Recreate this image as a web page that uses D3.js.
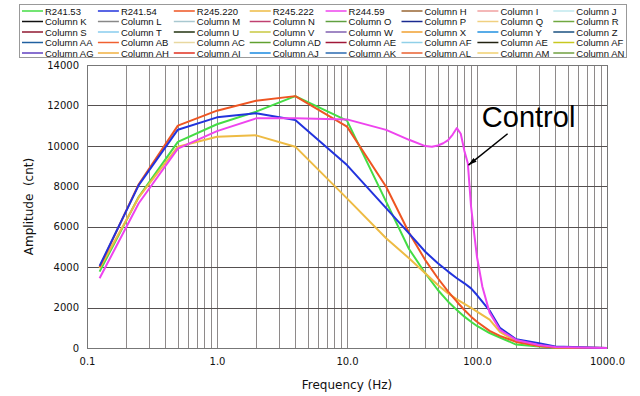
<!DOCTYPE html>
<html>
<head>
<meta charset="utf-8">
<script src="https://cdn.jsdelivr.net/npm/d3@7"></script>
<style>
  html, body { margin: 0; padding: 0; background: #fff; }
  svg { display: block; }
</style>
</head>
<body>
<div id="chart"></div>
<script>
// frequencies (Hz) shared by the four test runs
const freq = [0.125, 0.25, 0.5, 1, 2, 4, 10, 20, 30, 40, 50, 60, 70, 80, 90, 100, 125, 150, 200, 300, 400, 1000];

const r24153 = [3780, 7480, 10200, 11070, 11690, 12460, 11250, 7240, 4900, 3700, 2870, 2290, 1880, 1550, 1300, 1090, 740, 520, 170, 70, 20, 0];
const r24154 = [4060, 8060, 10800, 11410, 11610, 11280, 9050, 6920, 5670, 4760, 4190, 3780, 3450, 3200, 2950, 2620, 1850, 1000, 430, 230, 80, 0];
const r245220 = [4000, 8100, 11000, 11740, 12230, 12460, 10950, 7980, 5700, 4350, 3450, 2790, 2290, 1880, 1550, 1300, 850, 600, 300, 100, 30, 0];
const r245222 = [3940, 7450, 9960, 10450, 10520, 9960, 7400, 5430, 4440, 3700, 3120, 2700, 2410, 2180, 1990, 1800, 1400, 800, 320, 100, 30, 0];

// control run has its own, denser frequency list
const controlFreq = [0.125, 0.25, 0.5, 1, 2, 4, 10, 20, 30, 40, 45, 50, 55, 60, 65, 70, 75, 80, 85, 90, 95, 100, 110, 125, 150, 200, 300, 400, 1000];
const r24459 = [3450, 7160, 9860, 10730, 11360, 11360, 11310, 10790, 10300, 9990, 9960, 10020, 10130, 10280, 10560, 10880, 10600, 9750, 9140, 7000, 5700, 4500, 3030, 1750, 900, 400, 150, 50, 0];

const yTicks = [0, 2000, 4000, 6000, 8000, 10000, 12000, 14000];
const xLabels = [0.1, 1, 10, 100, 1000];

// legend entries (row by row, as in the original)
const legendNames = [
  "R241.53", "R241.54", "R245.220", "R245.222", "R244.59", "Column H", "Column I", "Column J",
  "Column K", "Column L", "Column M", "Column N", "Column O", "Column P", "Column Q", "Column R",
  "Column S", "Column T", "Column U", "Column V", "Column W", "Column X", "Column Y", "Column Z",
  "Column AA", "Column AB", "Column AC", "Column AD", "Column AE", "Column AF", "Column AE", "Column AF",
  "Column AG", "Column AH", "Column AI", "Column AJ", "Column AK", "Column AL", "Column AM", "Column AN"
];
const legendColors = [
  "#44dd44", "#2233dd", "#ee5522", "#eebb44", "#ee44ee", "#996633", "#f0a0a0", "#c0e8ee",
  "#111111", "#888888", "#a8c8d0", "#c04070", "#60a040", "#1a2a90", "#f0d080", "#70a840",
  "#901830", "#88ccee", "#223311", "#c8c840", "#8060b0", "#f0a030", "#2090e0", "#1a5080",
  "#2060a0", "#f06030", "#e8d8a0", "#60a030", "#a01838", "#90d0e8", "#222211", "#c8c820",
  "#6040c0", "#f0b040", "#e03020", "#1a8ae0", "#2a6ab0", "#e86030", "#f0d070", "#70a040"
];

const series = [
  { name: "R241.53", f: freq, v: r24153, color: "#44dd44" },
  { name: "R245.222", f: freq, v: r245222, color: "#eebb44" },
  { name: "R245.220", f: freq, v: r245220, color: "#ee5522" },
  { name: "R241.54", f: freq, v: r24154, color: "#2233dd" },
  { name: "R244.59", f: controlFreq, v: r24459, color: "#ee44ee" }
];

const W = 640, H = 396;
const plot = { left: 87, right: 607, top: 65, bottom: 348 };

const svg = d3.select("#chart").append("svg")
  .attr("width", W).attr("height", H);

const x = d3.scaleLog().domain([0.1, 1000]).range([plot.left, plot.right]);
const y = d3.scaleLinear().domain([0, 14000]).range([plot.bottom, plot.top]);

// grid
const grid = svg.append("g");
grid.selectAll("line.v")
  .data(x.ticks())
  .enter().append("line")
  .attr("class", "v")
  .attr("x1", d => Math.round(x(d)) + 0.5).attr("x2", d => Math.round(x(d)) + 0.5)
  .attr("y1", plot.top).attr("y2", plot.bottom)
  .attr("stroke", "#8e8a8a").attr("stroke-width", 1);
grid.selectAll("line.h")
  .data(yTicks)
  .enter().append("line")
  .attr("class", "h")
  .attr("x1", plot.left).attr("x2", plot.right)
  .attr("y1", d => Math.round(y(d)) + 0.5).attr("y2", d => Math.round(y(d)) + 0.5)
  .attr("stroke", "#555050").attr("stroke-width", 1);

svg.append("rect")
  .attr("x", plot.left + 0.5).attr("y", plot.top + 0.5)
  .attr("width", plot.right - plot.left).attr("height", plot.bottom - plot.top)
  .attr("fill", "none").attr("stroke", "#777");

// axes
const xAxis = svg.append("g")
  .attr("transform", "translate(0," + plot.bottom + ")")
  .call(d3.axisBottom(x).tickValues(xLabels).tickFormat(d3.format(".1f")).tickSize(0).tickPadding(10));
const yAxis = svg.append("g")
  .attr("transform", "translate(" + plot.left + ",0)")
  .call(d3.axisLeft(y).tickValues(yTicks).tickFormat(d3.format("d")).tickSize(0).tickPadding(8));
[xAxis, yAxis].forEach(a => {
  a.select(".domain").remove();
  a.selectAll("text").attr("font-family", "DejaVu Sans, Verdana, sans-serif")
    .attr("font-size", 10).attr("fill", "#111");
});

svg.append("text")
  .attr("x", (plot.left + plot.right) / 2).attr("y", 389)
  .attr("text-anchor", "middle")
  .attr("font-family", "DejaVu Sans, Verdana, sans-serif").attr("font-size", 12)
  .attr("fill", "#111")
  .text("Frequency (Hz)");

svg.append("text")
  .attr("transform", "translate(33," + (plot.top + plot.bottom) / 2 + ") rotate(-90)")
  .attr("text-anchor", "middle")
  .attr("font-family", "DejaVu Sans, Verdana, sans-serif").attr("font-size", 12)
  .attr("fill", "#111")
  .style("white-space", "pre")
  .text("Amplitude  (cnt)");

// data lines
const line = d3.line()
  .x(d => x(d[0]))
  .y(d => y(d[1]));

svg.append("g").selectAll("path")
  .data(series)
  .enter().append("path")
  .attr("d", s => line(s.f.map((f, i) => [f, s.v[i]])))
  .attr("fill", "none")
  .attr("stroke", s => s.color)
  .attr("stroke-width", 2)
  .attr("stroke-linejoin", "round");

// annotation
const note = { label: "Control", textF: 109, textV: 10930, fromF: 172, fromV: 10600, toF: 86, toV: 9050 };
svg.append("defs").append("marker")
  .attr("id", "arrow")
  .attr("viewBox", "0 -3 10 6")
  .attr("refX", 10).attr("refY", 0)
  .attr("markerWidth", 10).attr("markerHeight", 5)
  .attr("markerUnits", "userSpaceOnUse")
  .attr("orient", "auto")
  .append("path").attr("d", "M0,-3L10,0L0,3Z").attr("fill", "#000");
svg.append("line")
  .attr("x1", x(note.fromF)).attr("y1", y(note.fromV))
  .attr("x2", x(note.toF)).attr("y2", y(note.toV))
  .attr("stroke", "#000").attr("stroke-width", 1.5)
  .attr("marker-end", "url(#arrow)");
svg.append("text")
  .attr("x", x(note.textF)).attr("y", y(note.textV))
  .attr("font-family", "Liberation Sans, Arial, sans-serif").attr("font-size", 29)
  .attr("fill", "#000")
  .text(note.label);

// legend
const legend = svg.append("g");
legend.append("rect")
  .attr("x", 19.5).attr("y", 4.5).attr("width", 607).attr("height", 53)
  .attr("fill", "#fff").attr("stroke", "#999");
const items = legend.selectAll("g.item")
  .data(legendNames.map((n, i) => ({ name: n, color: legendColors[i], col: i % 8, row: Math.floor(i / 8) })))
  .enter().append("g")
  .attr("class", "item")
  .attr("transform", d => "translate(" + (22 + d.col * 75.9) + "," + (11 + d.row * 10.5) + ")");
items.append("line")
  .attr("x1", 0).attr("x2", 21).attr("y1", 0).attr("y2", 0)
  .attr("stroke", d => d.color).attr("stroke-width", 1.5);
items.append("text")
  .attr("x", 23).attr("y", 3.5)
  .attr("font-family", "Liberation Sans, Arial, sans-serif").attr("font-size", 9.5)
  .attr("fill", "#111")
  .text(d => d.name);
</script>
</body>
</html>
